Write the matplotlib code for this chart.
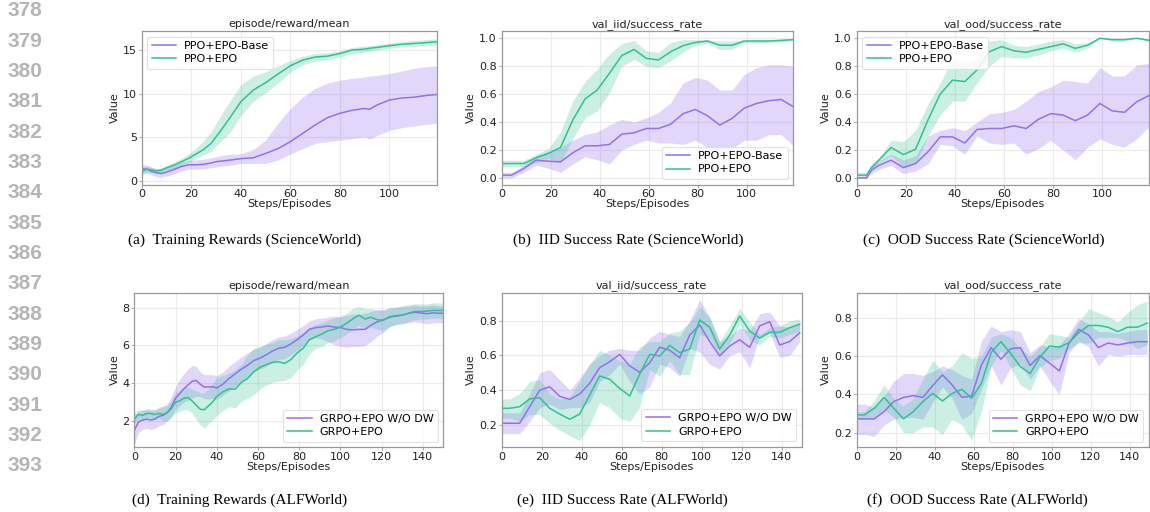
import matplotlib
matplotlib.use("Agg")
import matplotlib.pyplot as plt

PURPLE = "#9370f2"
GREEN = "#30c290"

# ---------------- (a) ScienceWorld training rewards ----------------
a_x = [0, 2, 4, 6, 8, 10, 13, 16, 19, 22, 25, 28, 30, 33, 36, 40, 45, 50, 55, 60,
       65, 70, 75, 80, 85, 90, 92, 95, 100, 105, 110, 115, 119]
a_epo = [1.05, 1.35, 1.25, 1.15, 1.25, 1.5, 1.8, 2.2, 2.6, 3.1, 3.6, 4.3, 5.05, 6.2, 7.4,
         9.07, 10.4, 11.25, 12.25, 13.2, 13.85, 14.2, 14.3, 14.6, 15.0, 15.1, 15.2, 15.3,
         15.5, 15.66, 15.75, 15.85, 15.95]
a_epo_hi = [1.5, 1.7, 1.55, 1.4, 1.5, 1.8, 2.15, 2.6, 3.1, 3.8, 4.6, 5.6, 6.6, 8.0, 9.3,
            11.0, 12.0, 12.5, 13.2, 13.8, 14.3, 14.6, 14.7, 14.9, 15.3, 15.45, 15.5, 15.6,
            15.8, 16.0, 16.1, 16.2, 16.3]
a_epo_lo = [0.6, 1.0, 0.95, 0.9, 1.0, 1.2, 1.45, 1.8, 2.2, 2.6, 3.0, 3.4, 4.0, 4.8, 5.7,
            7.5, 9.1, 10.1, 11.2, 12.5, 13.3, 13.7, 13.9, 14.2, 14.6, 14.75, 14.85, 15.0,
            15.2, 15.35, 15.4, 15.5, 15.6]
a_base = [1.4, 1.35, 1.1, 0.92, 0.85, 1.0, 1.3, 1.65, 1.85, 1.85, 1.9, 2.05, 2.2, 2.3, 2.4,
          2.55, 2.65, 3.15, 3.7, 4.5, 5.45, 6.4, 7.25, 7.75, 8.1, 8.31, 8.2, 8.7, 9.27,
          9.5, 9.6, 9.8, 9.9]
a_base_hi = [1.9, 1.8, 1.55, 1.4, 1.35, 1.5, 1.8, 2.15, 2.35, 2.4, 2.5, 2.65, 2.8, 2.95, 3.05,
             3.1, 3.6, 4.7, 6.6, 8.3, 9.6, 10.6, 11.2, 11.55, 11.75, 11.9, 12.0, 12.1, 12.3,
             12.6, 12.9, 13.1, 13.2]
a_base_lo = [0.9, 0.9, 0.7, 0.45, 0.4, 0.55, 0.8, 1.15, 1.35, 1.35, 1.4, 1.5, 1.6, 1.7, 1.8,
             2.0, 2.0, 2.0, 2.4, 3.1, 3.7, 4.3, 4.5, 4.67, 4.85, 5.05, 4.8, 5.2, 5.8, 6.1,
             6.3, 6.5, 6.6]

# ---------------- (b)/(c) ScienceWorld success rates ----------------
sw_x = [0, 4, 9, 14, 19, 24, 29, 34, 39, 44, 49, 54, 59, 64, 69, 74, 79, 84, 89, 94,
        99, 104, 109, 114, 119]
b_epo = [0.103, 0.103, 0.103, 0.144, 0.175, 0.218, 0.414, 0.565, 0.63, 0.75, 0.876, 0.92,
         0.856, 0.845, 0.904, 0.947, 0.97, 0.98, 0.95, 0.95, 0.98, 0.98, 0.98, 0.985, 0.99]
b_epo_hi = [0.127, 0.127, 0.127, 0.17, 0.21, 0.33, 0.55, 0.69, 0.78, 0.89, 0.96, 0.985,
            0.91, 0.90, 0.97, 0.99, 0.99, 0.99, 0.98, 0.98, 0.99, 0.99, 0.99, 0.995, 0.995]
b_epo_lo = [0.08, 0.08, 0.08, 0.11, 0.14, 0.11, 0.28, 0.43, 0.48, 0.61, 0.80, 0.85, 0.80,
            0.79, 0.84, 0.90, 0.95, 0.965, 0.92, 0.92, 0.97, 0.97, 0.97, 0.975, 0.985]
b_base = [0.02, 0.02, 0.067, 0.127, 0.12, 0.115, 0.18, 0.23, 0.23, 0.24, 0.313, 0.323,
          0.354, 0.354, 0.385, 0.46, 0.49, 0.445, 0.378, 0.426, 0.50, 0.533, 0.553, 0.562,
          0.51]
b_base_hi = [0.04, 0.04, 0.09, 0.16, 0.19, 0.22, 0.27, 0.31, 0.33, 0.38, 0.42, 0.40, 0.43,
             0.47, 0.54, 0.68, 0.72, 0.70, 0.63, 0.63, 0.74, 0.79, 0.81, 0.81, 0.80]
b_base_lo = [0.0, 0.0, 0.04, 0.09, 0.07, 0.04, 0.10, 0.15, 0.13, 0.10, 0.20, 0.24, 0.27,
             0.25, 0.25, 0.24, 0.27, 0.22, 0.15, 0.21, 0.27, 0.27, 0.31, 0.31, 0.23]

c_x = [0, 4, 6, 9, 14, 19, 24, 29, 34, 39, 44, 49, 54, 59, 64, 69, 74, 79, 84, 89, 94,
       99, 104, 109, 114, 119]
c_epo = [0.02, 0.02, 0.074, 0.127, 0.218, 0.167, 0.206, 0.414, 0.60, 0.70, 0.69, 0.773,
         0.904, 0.94, 0.91, 0.90, 0.92, 0.94, 0.96, 0.928, 0.95, 1.0, 0.99, 0.99, 1.0, 0.985]
c_epo_hi = [0.04, 0.04, 0.10, 0.14, 0.27, 0.26, 0.34, 0.53, 0.68, 0.85, 0.82, 0.85, 0.98,
            0.99, 0.95, 0.94, 0.96, 0.98, 0.99, 0.96, 0.97, 1.0, 1.0, 1.0, 1.0, 0.995]
c_epo_lo = [0.0, 0.0, 0.05, 0.11, 0.16, 0.08, 0.10, 0.30, 0.45, 0.55, 0.55, 0.68, 0.80,
            0.87, 0.86, 0.86, 0.88, 0.91, 0.93, 0.90, 0.93, 1.0, 0.98, 0.98, 1.0, 0.975]
c_base = [0.0, 0.0, 0.055, 0.09, 0.127, 0.074, 0.103, 0.187, 0.294, 0.294, 0.25, 0.347,
          0.354, 0.354, 0.373, 0.354, 0.42, 0.46, 0.45, 0.41, 0.45, 0.533, 0.48, 0.47,
          0.545, 0.59]
c_base_hi = [0.01, 0.01, 0.08, 0.12, 0.17, 0.13, 0.16, 0.30, 0.34, 0.36, 0.34, 0.40, 0.46,
             0.47, 0.49, 0.55, 0.62, 0.65, 0.70, 0.69, 0.68, 0.79, 0.73, 0.73, 0.81, 0.82]
c_base_lo = [0.0, 0.0, 0.03, 0.06, 0.09, 0.03, 0.05, 0.10, 0.24, 0.23, 0.17, 0.30, 0.25,
             0.24, 0.25, 0.17, 0.21, 0.27, 0.20, 0.13, 0.22, 0.28, 0.24, 0.22, 0.28, 0.37]

# ---------------- (d) ALFWorld training rewards ----------------
d_x = [0, 2, 4, 6, 8, 10, 12, 14, 16, 18, 20, 22, 24, 26, 28, 30, 32, 34, 36, 38, 40, 43,
       46, 49, 52, 55, 58, 61, 64, 67, 70, 73, 76, 79, 82, 85, 88, 91, 94, 97, 100, 103,
       106, 109, 112, 115, 118, 121, 124, 127, 130, 133, 136, 139, 142, 145, 148, 150]
d_nodw = [1.5, 1.95, 2.05, 2.1, 2.05, 2.1, 2.25, 2.3, 2.45, 2.75, 3.2, 3.45, 3.7, 3.9, 4.1,
          4.15, 3.95, 3.8, 3.8, 3.82, 3.75, 3.95, 4.25, 4.5, 4.75, 4.95, 5.2, 5.33, 5.5, 5.7,
          5.85, 5.9, 6.08, 6.3, 6.55, 6.85, 6.94, 6.98, 7.03, 6.97, 6.95, 6.85, 6.82, 6.85,
          6.85, 7.08, 7.25, 7.35, 7.5, 7.55, 7.6, 7.7, 7.75, 7.72, 7.68, 7.72, 7.7, 7.7]
d_nodw_hi = [2.3, 2.5, 2.55, 2.6, 2.55, 2.6, 2.75, 2.8, 2.9, 3.3, 3.8, 4.2, 4.5, 4.75, 4.95,
             4.9, 4.6, 4.45, 4.45, 4.45, 4.4, 4.6, 4.9, 5.15, 5.4, 5.6, 5.8, 5.9, 6.1, 6.3,
             6.45, 6.5, 6.65, 6.85, 7.05, 7.3, 7.4, 7.45, 7.5, 7.55, 7.5, 7.6, 7.65, 7.65,
             7.7, 7.8, 7.9, 7.9, 8.0, 8.0, 8.05, 8.1, 8.15, 8.1, 8.1, 8.15, 8.1, 8.1]
d_nodw_lo = [0.75, 1.4, 1.55, 1.6, 1.55, 1.6, 1.75, 1.8, 2.0, 2.2, 2.6, 2.8, 3.0, 3.1, 3.2,
             3.3, 3.3, 3.2, 3.15, 3.2, 3.15, 3.35, 3.6, 3.85, 4.05, 4.3, 4.6, 4.75, 4.9, 5.1,
             5.25, 5.3, 5.5, 5.75, 6.0, 6.3, 6.4, 6.35, 6.2, 6.05, 5.95, 5.9, 5.95, 5.95,
             6.0, 6.2, 6.5, 6.7, 7.0, 7.1, 7.15, 7.2, 7.25, 7.2, 7.15, 7.2, 7.2, 7.2]
d_epo = [2.1, 2.35, 2.3, 2.4, 2.4, 2.35, 2.4, 2.35, 2.45, 2.65, 3.0, 3.07, 3.2, 3.25, 3.07,
         2.85, 2.62, 2.6, 2.8, 3.0, 3.3, 3.55, 3.7, 3.68, 4.05, 4.25, 4.6, 4.85, 4.98, 5.1,
         5.14, 5.05, 5.25, 5.6, 5.85, 6.3, 6.46, 6.6, 6.78, 6.85, 6.96, 7.17, 7.4, 7.6, 7.4,
         7.49, 7.35, 7.35, 7.52, 7.58, 7.6, 7.7, 7.8, 7.8, 7.82, 7.85, 7.85, 7.85]
d_epo_hi = [2.4, 2.6, 2.6, 2.65, 2.65, 2.6, 2.65, 2.75, 2.85, 3.1, 3.5, 3.6, 3.75, 3.8, 3.7,
            3.6, 3.5, 3.5, 3.7, 3.95, 4.3, 4.4, 4.55, 4.7, 5.0, 5.5, 5.85, 5.95, 6.05, 6.15,
            6.3, 6.3, 6.35, 6.5, 6.7, 6.95, 7.1, 7.2, 7.35, 7.45, 7.55, 7.7, 7.95, 8.05,
            7.95, 7.95, 7.85, 7.85, 8.0, 8.05, 8.1, 8.15, 8.2, 8.2, 8.2, 8.25, 8.25, 8.25]
d_epo_lo = [1.9, 2.1, 2.05, 2.15, 2.15, 2.1, 2.15, 2.0, 2.0, 2.2, 2.45, 2.5, 2.6, 2.6, 2.45,
            2.1, 1.8, 1.6, 1.85, 2.05, 2.3, 2.55, 2.75, 2.7, 3.05, 3.2, 3.4, 3.7, 3.9, 4.05,
            4.1, 4.15, 4.3, 4.7, 5.0, 5.55, 5.85, 5.95, 6.15, 6.25, 6.4, 6.6, 6.85, 7.05,
            6.9, 6.95, 6.85, 6.8, 7.0, 7.1, 7.15, 7.25, 7.35, 7.4, 7.4, 7.45, 7.45, 7.45]

# ---------------- (e)/(f) ALFWorld success rates ----------------
af_x = [0, 4, 9, 14, 19, 24, 29, 34, 39, 44, 49, 54, 59, 64, 69, 74, 79, 84, 89, 94, 99,
        104, 109, 114, 119, 124, 129, 134, 139, 144, 149]
e_nodw = [0.21, 0.21, 0.21, 0.305, 0.40, 0.42, 0.365, 0.347, 0.378, 0.44, 0.53, 0.564,
          0.606, 0.54, 0.503, 0.558, 0.647, 0.63, 0.587, 0.717, 0.775, 0.68, 0.597, 0.654,
          0.69, 0.647, 0.77, 0.794, 0.66, 0.68, 0.73]
e_nodw_hi = [0.27, 0.27, 0.27, 0.38, 0.50, 0.52, 0.46, 0.40, 0.47, 0.55, 0.60, 0.63, 0.64,
             0.63, 0.63, 0.70, 0.74, 0.72, 0.71, 0.80, 0.92, 0.82, 0.68, 0.71, 0.76, 0.74,
             0.84, 0.85, 0.77, 0.76, 0.79]
e_nodw_lo = [0.15, 0.15, 0.15, 0.22, 0.30, 0.32, 0.29, 0.30, 0.30, 0.33, 0.45, 0.49, 0.55,
             0.45, 0.38, 0.42, 0.55, 0.53, 0.48, 0.64, 0.62, 0.55, 0.52, 0.60, 0.62, 0.53,
             0.71, 0.73, 0.59, 0.60, 0.68]
e_epo = [0.296, 0.296, 0.305, 0.35, 0.357, 0.296, 0.263, 0.233, 0.263, 0.373, 0.482, 0.463,
         0.41, 0.367, 0.493, 0.606, 0.597, 0.658, 0.616, 0.637, 0.804, 0.762, 0.637, 0.717,
         0.827, 0.74, 0.70, 0.733, 0.733, 0.76, 0.78]
e_epo_hi = [0.35, 0.35, 0.38, 0.45, 0.46, 0.38, 0.35, 0.36, 0.45, 0.55, 0.63, 0.60, 0.57,
            0.55, 0.65, 0.68, 0.68, 0.73, 0.74, 0.79, 0.88, 0.82, 0.68, 0.77, 0.87, 0.79,
            0.72, 0.76, 0.77, 0.80, 0.81]
e_epo_lo = [0.24, 0.24, 0.22, 0.26, 0.26, 0.21, 0.17, 0.14, 0.11, 0.20, 0.33, 0.30, 0.24,
            0.22, 0.30, 0.52, 0.48, 0.57, 0.49, 0.49, 0.72, 0.70, 0.60, 0.67, 0.78, 0.69,
            0.66, 0.71, 0.70, 0.72, 0.74]

f_nodw = [0.272, 0.272, 0.272, 0.31, 0.363, 0.384, 0.394, 0.385, 0.447, 0.503, 0.45, 0.385,
          0.392, 0.555, 0.646, 0.585, 0.64, 0.646, 0.552, 0.604, 0.564, 0.524, 0.67, 0.742,
          0.712, 0.646, 0.67, 0.66, 0.67, 0.677, 0.677]
f_nodw_hi = [0.35, 0.35, 0.33, 0.39, 0.47, 0.51, 0.51, 0.50, 0.52, 0.55, 0.53, 0.50, 0.48,
             0.68, 0.76, 0.73, 0.74, 0.73, 0.62, 0.66, 0.65, 0.66, 0.72, 0.80, 0.77, 0.73,
             0.73, 0.72, 0.73, 0.74, 0.74]
f_nodw_lo = [0.19, 0.19, 0.18, 0.24, 0.27, 0.28, 0.28, 0.27, 0.36, 0.44, 0.38, 0.27, 0.30,
             0.43, 0.55, 0.45, 0.54, 0.56, 0.48, 0.55, 0.47, 0.40, 0.62, 0.68, 0.65, 0.55,
             0.61, 0.60, 0.61, 0.61, 0.61]
f_epo = [0.293, 0.293, 0.328, 0.385, 0.328, 0.272, 0.31, 0.363, 0.406, 0.366, 0.406, 0.427,
         0.38, 0.459, 0.62, 0.677, 0.616, 0.546, 0.51, 0.595, 0.655, 0.648, 0.672, 0.725,
         0.762, 0.762, 0.753, 0.73, 0.753, 0.753, 0.774]
f_epo_hi = [0.31, 0.31, 0.37, 0.45, 0.38, 0.34, 0.38, 0.48, 0.58, 0.52, 0.55, 0.62, 0.59,
            0.60, 0.70, 0.72, 0.70, 0.64, 0.60, 0.65, 0.72, 0.71, 0.70, 0.78, 0.85, 0.83,
            0.81, 0.78, 0.83, 0.87, 0.89]
f_epo_lo = [0.27, 0.27, 0.28, 0.32, 0.28, 0.20, 0.20, 0.23, 0.23, 0.19, 0.27, 0.24, 0.16,
            0.31, 0.55, 0.63, 0.54, 0.45, 0.42, 0.54, 0.58, 0.59, 0.64, 0.67, 0.67, 0.70,
            0.70, 0.70, 0.68, 0.64, 0.66]

titles = ["episode/reward/mean", "val_iid/success_rate", "val_ood/success_rate"]
captions_top = ["(a)  Training Rewards (ScienceWorld)", "(b)  IID Success Rate (ScienceWorld)",
                "(c)  OOD Success Rate (ScienceWorld)"]
captions_bot = ["(d)  Training Rewards (ALFWorld)", "(e)  IID Success Rate (ALFWorld)",
                "(f)  OOD Success Rate (ALFWorld)"]
labels_top = ["PPO+EPO-Base", "PPO+EPO"]
labels_bot = ["GRPO+EPO W/O DW", "GRPO+EPO"]
line_numbers = list(range(378, 394))

W, H = 1150, 512
fig = plt.figure(figsize=(W / 100, H / 100), dpi=100)


def add_ax(l, r, t, b):
    return fig.add_axes([l / W, 1 - b / H, (r - l) / W, (b - t) / H])


def style(ax, title, xlim, ylim, xticks, yticks, labels, loc):
    ax.set_xlim(*xlim)
    ax.set_ylim(*ylim)
    ax.set_xticks(xticks)
    ax.set_yticks(yticks)
    ax.grid(True, color="#ebebeb", lw=0.8)
    ax.set_axisbelow(True)
    for s in ax.spines.values():
        s.set_color("#999999")
        s.set_linewidth(0.9)
    ax.tick_params(labelsize=8, length=2, width=0.6, color="#999999", pad=1.5,
                   labelcolor="#222222")
    ax.set_title(title, fontsize=8, pad=3, color="#222222")
    ax.set_xlabel("Steps/Episodes", fontsize=8, labelpad=0, color="#222222")
    ax.set_ylabel("Value", fontsize=8, labelpad=2, color="#222222")
    leg = ax.legend(labels, loc=loc, fontsize=8, handlelength=2.2, handletextpad=0.7,
                    borderpad=0.4, labelspacing=0.3, framealpha=0.85, fancybox=True)
    leg.get_frame().set_edgecolor("#dddddd")
    leg.get_frame().set_linewidth(0.8)


def draw(ax, x, s1, s1h, s1l, s2, s2h, s2l):
    ax.plot(x, s1, color=PURPLE, lw=1.1)
    ax.plot(x, s2, color=GREEN, lw=1.1)
    ax.fill_between(x, s1l, s1h, color=PURPLE, alpha=0.28, lw=0)
    ax.fill_between(x, s2l, s2h, color=GREEN, alpha=0.25, lw=0)


ax = add_ax(141.7, 436.5, 31, 184.5)
draw(ax, a_x, a_base, a_base_hi, a_base_lo, a_epo, a_epo_hi, a_epo_lo)
style(ax, titles[0], (0, 119), (-0.41, 17.18), range(0, 101, 20), [0, 5, 10, 15],
      labels_top, "upper left")

ax = add_ax(501.7, 793.3, 31, 184.5)
draw(ax, sw_x, b_base, b_base_hi, b_base_lo, b_epo, b_epo_hi, b_epo_lo)
style(ax, titles[1], (0, 119), (-0.047, 1.052), range(0, 101, 20),
      [0.0, 0.2, 0.4, 0.6, 0.8, 1.0], labels_top, "lower right")

ax = add_ax(856.7, 1149, 31, 184.5)
draw(ax, c_x, c_base, c_base_hi, c_base_lo, c_epo, c_epo_hi, c_epo_lo)
style(ax, titles[2], (0, 119), (-0.047, 1.052), range(0, 101, 20),
      [0.0, 0.2, 0.4, 0.6, 0.8, 1.0], labels_top, "upper left")

ax = add_ax(134.3, 443.3, 292.7, 447.3)
draw(ax, d_x, d_nodw, d_nodw_hi, d_nodw_lo, d_epo, d_epo_hi, d_epo_lo)
style(ax, titles[0], (0, 150), (0.61, 8.79), range(0, 141, 20), [2, 4, 6, 8],
      labels_bot, "lower right")

ax = add_ax(501.7, 801.7, 292.7, 446.7)
draw(ax, af_x, e_nodw, e_nodw_hi, e_nodw_lo, e_epo, e_epo_hi, e_epo_lo)
style(ax, titles[1], (0, 150), (0.075, 0.961), range(0, 141, 20), [0.2, 0.4, 0.6, 0.8],
      labels_bot, "lower right")

ax = add_ax(856.7, 1149, 292.7, 447.3)
draw(ax, af_x, f_nodw, f_nodw_hi, f_nodw_lo, f_epo, f_epo_hi, f_epo_lo)
style(ax, titles[2], (0, 150), (0.123, 0.934), range(0, 141, 20), [0.2, 0.4, 0.6, 0.8],
      labels_bot, "lower right")

# captions
for cx, txt in zip([245, 628, 984], captions_top):
    fig.text(cx / W, 1 - 240 / H, txt, ha="center", va="center", fontsize=11,
             family="Liberation Serif")
for cx, txt in zip([240, 622, 977], captions_bot):
    fig.text(cx / W, 1 - 500 / H, txt, ha="center", va="center", fontsize=11,
             family="Liberation Serif")

# line numbers
for i, n in enumerate(line_numbers):
    fig.text(7 / W, 1 - (11 + 30.33 * i) / H, str(n), ha="left", va="center", fontsize=15,
             family="Liberation Sans", fontweight="bold", color="#b5b5b5")

fig.savefig("out.png", dpi=100)
